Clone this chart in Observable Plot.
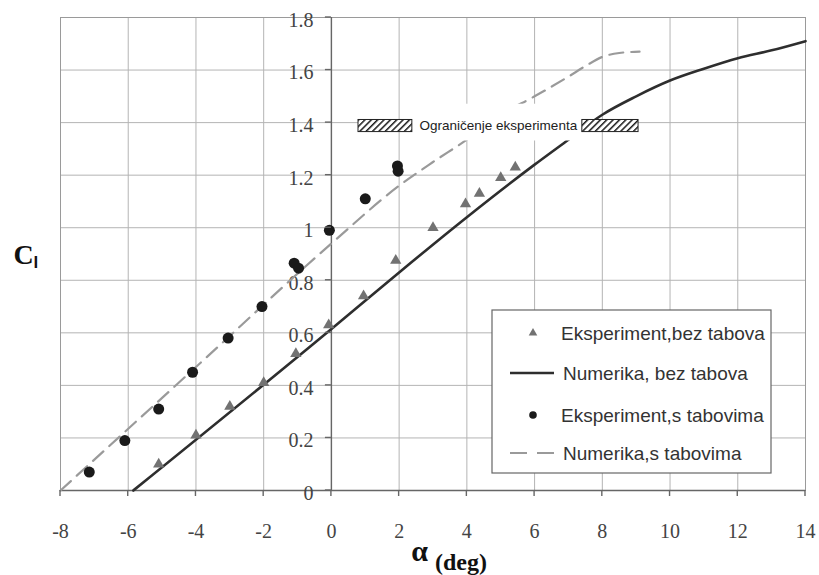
<!DOCTYPE html>
<html><head><meta charset="utf-8">
<script src="https://cdn.jsdelivr.net/npm/d3@7"></script>
<script src="https://cdn.jsdelivr.net/npm/@observablehq/plot@0.6"></script>
<style>body{margin:0;background:#fff}</style>
</head><body><div id="chart"></div>
<script>
// ---- data ----
const xTicks = [-8, -6, -4, -2, 0, 2, 4, 6, 8, 10, 12, 14];
const xTickLabels = ["-8", "-6", "-4", "-2", "0", "2", "4", "6", "8", "10", "12", "14"];
const yTicks = [0, 0.2, 0.4, 0.6, 0.8, 1, 1.2, 1.4, 1.6, 1.8];
const yTickLabels = ["0", "0.2", "0.4", "0.6", "0.8", "1", "1.2", "1.4", "1.6", "1.8"];

// Eksperiment, bez tabova (triangles)
const expNoTabAlpha = [-5.1, -4.0, -3.0, -2.0, -1.05, -0.08, 0.95, 1.9, 3.0, 3.96, 4.37, 5.0, 5.43];
const expNoTabCl    = [0.10, 0.21, 0.32, 0.41, 0.52, 0.63, 0.74, 0.875, 1.0, 1.09, 1.13, 1.19, 1.23];

// Numerika, bez tabova (solid line)
const numNoTabAlpha = [-5.85, 0, 2, 4, 6, 7, 8, 9, 10, 11, 12, 13, 14];
const numNoTabCl    = [0, 0.615, 0.83, 1.04, 1.24, 1.335, 1.43, 1.50, 1.56, 1.605, 1.645, 1.675, 1.71];

// Eksperiment, s tabovima (circles)
const expTabAlpha = [-7.15, -6.1, -5.1, -4.1, -3.05, -2.05, -1.1, -0.97, -0.06, 1.0, 1.95, 1.97];
const expTabCl    = [0.07, 0.19, 0.31, 0.45, 0.58, 0.70, 0.865, 0.846, 0.99, 1.11, 1.235, 1.215];

// Numerika, s tabovima (dashed line)
const numTabAlpha = [-8, -4, 0, 2, 3, 4, 5, 6, 7, 7.5, 8, 8.5, 9.1];
const numTabCl    = [0, 0.47, 0.94, 1.16, 1.25, 1.335, 1.43, 1.50, 1.575, 1.615, 1.65, 1.665, 1.67];

// annotation "Ograničenje eksperimenta"
const annotText = "Ograničenje eksperimenta";
const annotAlpha = 4.93, annotCl = 1.387;
const annotBoxA = [2.39, 7.41], annotBoxCl = [1.33, 1.47];
const hatchA1 = [0.80, 7.41], hatchA2 = [2.39, 9.07];
const hatchCl = [1.364, 1.41];

const legendLabels = ["Eksperiment,bez tabova", "Numerika, bez tabova", "Eksperiment,s tabovima", "Numerika,s tabovima"];

// ---- tables ----
const zip = (a, b) => a.map((v, i) => ({a: v, cl: b[i]}));
const expNoTab = zip(expNoTabAlpha, expNoTabCl);
const numNoTab = zip(numNoTabAlpha, numNoTabCl);
const expTab = zip(expTabAlpha, expTabCl);
const numTab = zip(numTabAlpha, numTabCl);
const hatches = hatchA1.map((v, i) => ({x1: v, x2: hatchA2[i], y1: hatchCl[0], y2: hatchCl[1]}));

const serif = "Liberation Serif";
const sans = "Liberation Sans";

const chart = Plot.plot({
  width: 819, height: 575,
  marginLeft: 60, marginRight: 14, marginTop: 17, marginBottom: 85,
  x: {domain: [-8, 14], axis: null},
  y: {domain: [0, 1.8], axis: null},
  style: {background: "white", overflow: "visible"},
  marks: [
    Plot.ruleX(xTicks, {stroke: "#b4b4b4", strokeWidth: 1}),
    Plot.ruleY(yTicks, {stroke: "#b4b4b4", strokeWidth: 1}),
    Plot.frame({stroke: "#9a9a9a"}),
    Plot.ruleX([0], {stroke: "#666", strokeWidth: 1.4}),
    Plot.ruleY([0], {stroke: "#666", strokeWidth: 1.4}),
    Plot.text(xTicks, {x: d => d, y: 0, dy: 41, text: (d, i) => xTickLabels[i], fontSize: 20, fontFamily: serif, fill: "#444"}),
    Plot.text(yTicks, {x: 0, y: d => d, dx: -18, dy: 3, textAnchor: "end", text: (d, i) => yTickLabels[i], fontSize: 20, fontFamily: serif, fill: "#444"}),
    Plot.line(numTab, {x: "a", y: "cl", stroke: "#9a9a9a", strokeWidth: 2.2, strokeDasharray: "14,8", curve: "monotone-x"}),
    Plot.line(numNoTab, {x: "a", y: "cl", stroke: "#2e2e2e", strokeWidth: 2.6, curve: "monotone-x"}),
    Plot.dot(expNoTab, {x: "a", y: "cl", symbol: "triangle", r: 4.2, fill: "#727272"}),
    Plot.dot(expTab, {x: "a", y: "cl", r: 5.5, fill: "#1a1a1a"}),
    Plot.rect([0], {x1: annotBoxA[0], x2: annotBoxA[1], y1: annotBoxCl[0], y2: annotBoxCl[1], fill: "white"}),
    Plot.rect(hatches, {x1: "x1", x2: "x2", y1: "y1", y2: "y2", fill: "url(#hatch)", stroke: "#222", strokeWidth: 1}),
    Plot.text([annotText], {x: annotAlpha, y: annotCl, text: d => d, fontSize: 13.5, fontFamily: sans, fill: "#222"}),
    Plot.text(["C"], {frameAnchor: "left", text: d => d, textAnchor: "start", lineAnchor: "bottom", dx: -47, dy: 10, fontSize: 28, fontWeight: "bold", fontFamily: serif, fill: "#111"}),
    Plot.text(["l"], {frameAnchor: "left", text: d => d, textAnchor: "start", lineAnchor: "bottom", dx: -27, dy: 14, fontSize: 17, fontWeight: "bold", fontFamily: sans, fill: "#111"}),
    Plot.text(["α"], {frameAnchor: "bottom", text: d => d, textAnchor: "end", lineAnchor: "bottom", dx: -5, dy: 70, fontSize: 30, fontWeight: "bold", fontFamily: serif, fill: "#111"}),
    Plot.text(["(deg)"], {frameAnchor: "bottom", text: d => d, textAnchor: "start", lineAnchor: "bottom", dx: 2, dy: 79, fontSize: 24, fontWeight: "bold", fontFamily: serif, fill: "#111"})
  ]
});

const svg = d3.select(chart);
// enforce fonts on every text element
svg.selectAll("text").each(function() {
  const t = this.textContent;
  const fam = (t === annotText || t === "l") ? sans : serif;
  this.setAttribute("font-family", fam);
  this.style.setProperty("font-family", `"${fam}"`, "important");
});

// hatch pattern
const defs = svg.insert("defs", ":first-child");
const pat = defs.append("pattern").attr("id", "hatch").attr("patternUnits", "userSpaceOnUse")
  .attr("width", 4.5).attr("height", 4.5).attr("patternTransform", "rotate(45)");
pat.append("rect").attr("width", 4.5).attr("height", 4.5).attr("fill", "white");
pat.append("line").attr("x1", 0).attr("y1", 0).attr("x2", 0).attr("y2", 4.5).attr("stroke", "#1a1a1a").attr("stroke-width", 3);

// axis tick marks using Plot's scales
const sx = chart.scale("x"), sy = chart.scale("y");
const y0 = sy.apply(0), x0 = sx.apply(0);
const ticks = svg.append("g").attr("stroke", "#666").attr("stroke-width", 1.4);
xTicks.forEach(v => ticks.append("line").attr("x1", sx.apply(v)).attr("x2", sx.apply(v)).attr("y1", y0).attr("y2", y0 + 6));
yTicks.forEach(v => ticks.append("line").attr("x1", x0 - 6).attr("x2", x0).attr("y1", sy.apply(v)).attr("y2", sy.apply(v)));

// legend
const lg = svg.append("g").attr("text-anchor", "start");
lg.append("rect").attr("x", 492).attr("y", 310).attr("width", 279).attr("height", 163)
  .attr("fill", "white").attr("stroke", "#666").attr("stroke-width", 1.2);
const rows = [333, 373, 415, 453];
lg.append("path").attr("d", d3.symbol(d3.symbolTriangle, 32)()).attr("transform", `translate(533,${rows[0]})`).attr("fill", "#727272");
lg.append("line").attr("x1", 510).attr("x2", 554).attr("y1", rows[1]).attr("y2", rows[1]).attr("stroke", "#2e2e2e").attr("stroke-width", 2.6);
lg.append("circle").attr("cx", 533).attr("cy", rows[2]).attr("r", 3.8).attr("fill", "#1a1a1a");
lg.append("line").attr("x1", 510).attr("x2", 554).attr("y1", rows[3]).attr("y2", rows[3]).attr("stroke", "#9a9a9a").attr("stroke-width", 2.2).attr("stroke-dasharray", "17,10");
legendLabels.forEach((t, i) => lg.append("text").attr("x", i % 2 ? 563 : 561).attr("y", rows[i]).attr("dy", "0.35em")
  .attr("text-anchor", "start").attr("font-family", sans).style("font-family", `"${sans}"`).style("font-size", "19px").attr("fill", "#333").text(t));

document.getElementById("chart").appendChild(chart);
</script>
</body></html>
